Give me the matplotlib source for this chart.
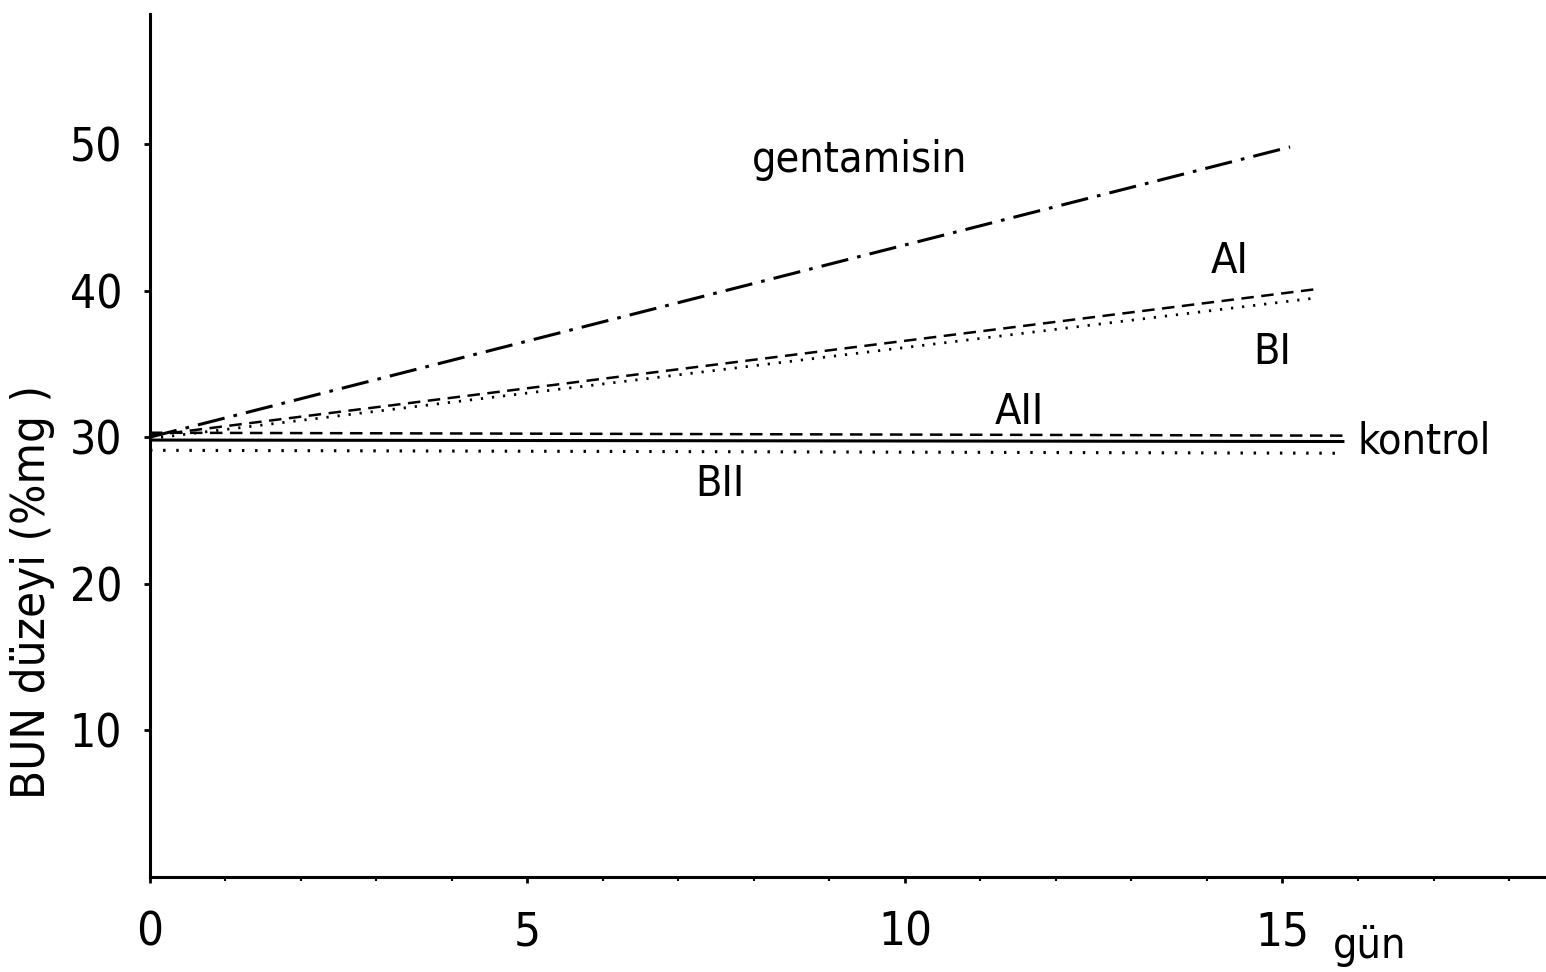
import matplotlib
matplotlib.use("Agg")
import matplotlib.pyplot as plt
from matplotlib.ticker import MultipleLocator

plt.rcParams['font.family'] = ['DejaVu Sans']
plt.rcParams['font.stretch'] = 'condensed'

# data: straight lines (start day, end day)
days_gent = [0, 15.1]
gentamisin = [30.0, 49.8]
days_a1 = [0, 15.45]
a1 = [30.1, 40.1]
days_b1 = [0, 15.45]
b1 = [29.9, 39.5]
days_flat = [0, 15.8]
a2 = [30.3, 30.1]
kontrol = [29.8, 29.7]
b2 = [29.1, 28.9]

x_ticks = [0, 5, 10, 15]
y_ticks = [10, 20, 30, 40, 50]

fig = plt.figure(figsize=(15.46, 9.72), dpi=100)
ax = fig.add_axes([0.097, 0.098, 0.903, 0.888])
ax.set_xlim(0, 18.49)
ax.set_ylim(0, 58.9)

ax.plot(days_gent, gentamisin, color="black", lw=2.2, dashes=(9, 3, 1.2, 3))
ax.plot(days_a1, a1, color="black", lw=1.8, dashes=(5, 3))
ax.plot(days_b1, b1, color="black", lw=2.0, dashes=(0.8, 3.2))
ax.plot(days_flat, a2, color="black", lw=1.8, dashes=(5, 3))
ax.plot(days_flat, kontrol, color="black", lw=2.2)
ax.plot(days_flat, b2, color="black", lw=2.2, dashes=(0.8, 3.5))

for s in ["top", "right"]:
    ax.spines[s].set_visible(False)
for s in ["left", "bottom"]:
    ax.spines[s].set_linewidth(2.2)

ax.set_xticks(x_ticks)
ax.set_yticks(y_ticks)
ax.xaxis.set_minor_locator(MultipleLocator(1))
ax.tick_params(axis="x", which="major", length=4, width=2, pad=20, labelsize=34)
ax.tick_params(axis="x", which="minor", length=3, width=1.5)
ax.tick_params(axis="y", which="major", length=4, width=2, pad=16, labelsize=33)

ax.set_ylabel("BUN düzeyi (%mg )", fontsize=34)
ax.yaxis.set_label_coords(-0.068, 0.33)

ax.text(9.4, 48.9, "gentamisin", fontsize=31, ha="center", va="center")
ax.text(14.3, 42.0, "AI", fontsize=31, ha="center", va="center")
ax.text(14.86, 35.8, "BI", fontsize=31, ha="center", va="center")
ax.text(11.52, 31.7, "AII", fontsize=31, ha="center", va="center")
ax.text(7.55, 26.8, "BII", fontsize=31, ha="center", va="center")
ax.text(16.0, 29.7, "kontrol", fontsize=31, ha="left", va="center")
ax.text(16.16, -4.7, "gün", fontsize=31, ha="center", va="center")

fig.savefig("out.png", dpi=100, facecolor="white")
